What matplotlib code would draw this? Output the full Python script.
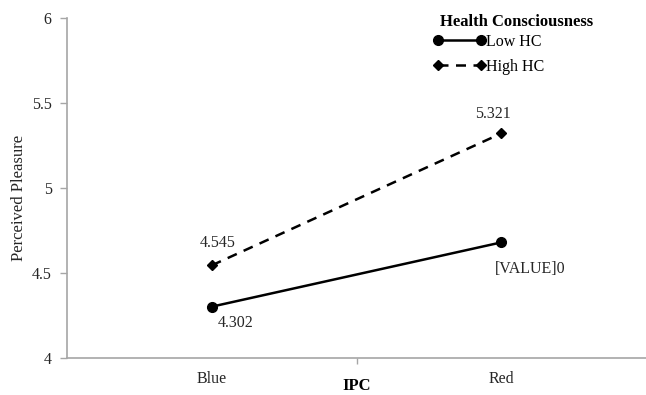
import matplotlib.pyplot as plt

plt.rcParams["font.family"] = ["Liberation Serif", "DejaVu Serif"]

categories = ["Blue", "Red"]
low_hc = [4.302, 4.68]
high_hc = [4.545, 5.321]
low_labels = ["4.302", "[VALUE]0"]
high_labels = ["4.545", "5.321"]

fig = plt.figure(figsize=(6.46, 3.95), dpi=100)
ax = fig.add_axes([67 / 646, 1 - 358 / 395, 1 - 67 / 646, 340 / 395])

x = list(range(len(categories)))
ax.plot(x, low_hc, color="black", lw=1.8, marker="o", ms=7, label="Low HC")
ax.plot(x, high_hc, color="black", lw=1.8, ls=(0, (4, 3)), marker="D", ms=5, label="High HC")

# value labels
for xi, v, t, off in zip(x, low_hc, low_labels, [(17, -12), (21, -19)]):
    ax.annotate(t, (xi, v), xytext=off, textcoords="offset points",
                ha="center", va="center", fontsize=11.5, color="#262626")
for xi, v, t, off in zip(x, high_hc, high_labels, [(4, 16), (-6, 14)]):
    ax.annotate(t, (xi, v), xytext=off, textcoords="offset points",
                ha="center", va="center", fontsize=11.5, color="#262626")

ax.set_xlim(-0.5, 1.5)
ax.set_ylim(4, 6)
ax.set_yticks([4, 4.5, 5, 5.5, 6])
ax.set_yticklabels(["4", "4.5", "5", "5.5", "6"])
ax.set_xticks([0.5])
ax.set_xticklabels([""])
for xi, c in zip(x, categories):
    ax.text(xi, -0.062, c, transform=ax.get_xaxis_transform(), ha="center", va="center",
            fontsize=11.5, color="#262626")

ax.tick_params(axis="y", length=5, width=1, color="#a6a6a6", labelsize=11.5,
               labelcolor="#262626", pad=6)
ax.tick_params(axis="x", length=4, width=1, color="#a6a6a6")
for s in ["top", "right"]:
    ax.spines[s].set_visible(False)
for s in ["left", "bottom"]:
    ax.spines[s].set_color("#a6a6a6")
    ax.spines[s].set_linewidth(1.2)

ax.set_xlabel("IPC", fontsize=12, fontweight="bold", va="center")
ax.xaxis.set_label_coords(0.5, -0.082)
ax.set_ylabel("Perceived Pleasure", fontsize=12, color="#262626", va="center")
ax.yaxis.set_label_coords(-0.083, 0.47)

# legend: heading drawn separately so it lines up with the handles
fig.text(440 / 646, 1 - 22 / 395, "Health Consciousness", ha="left", va="center",
         fontsize=12, fontweight="bold")
ax.legend(loc="upper left", bbox_to_anchor=(0.622, 0.972), frameon=False,
          fontsize=11.5, numpoints=2, handlelength=3.25, handletextpad=0.05,
          labelspacing=0.55, borderaxespad=0)

fig.savefig("out.png", dpi=100)
